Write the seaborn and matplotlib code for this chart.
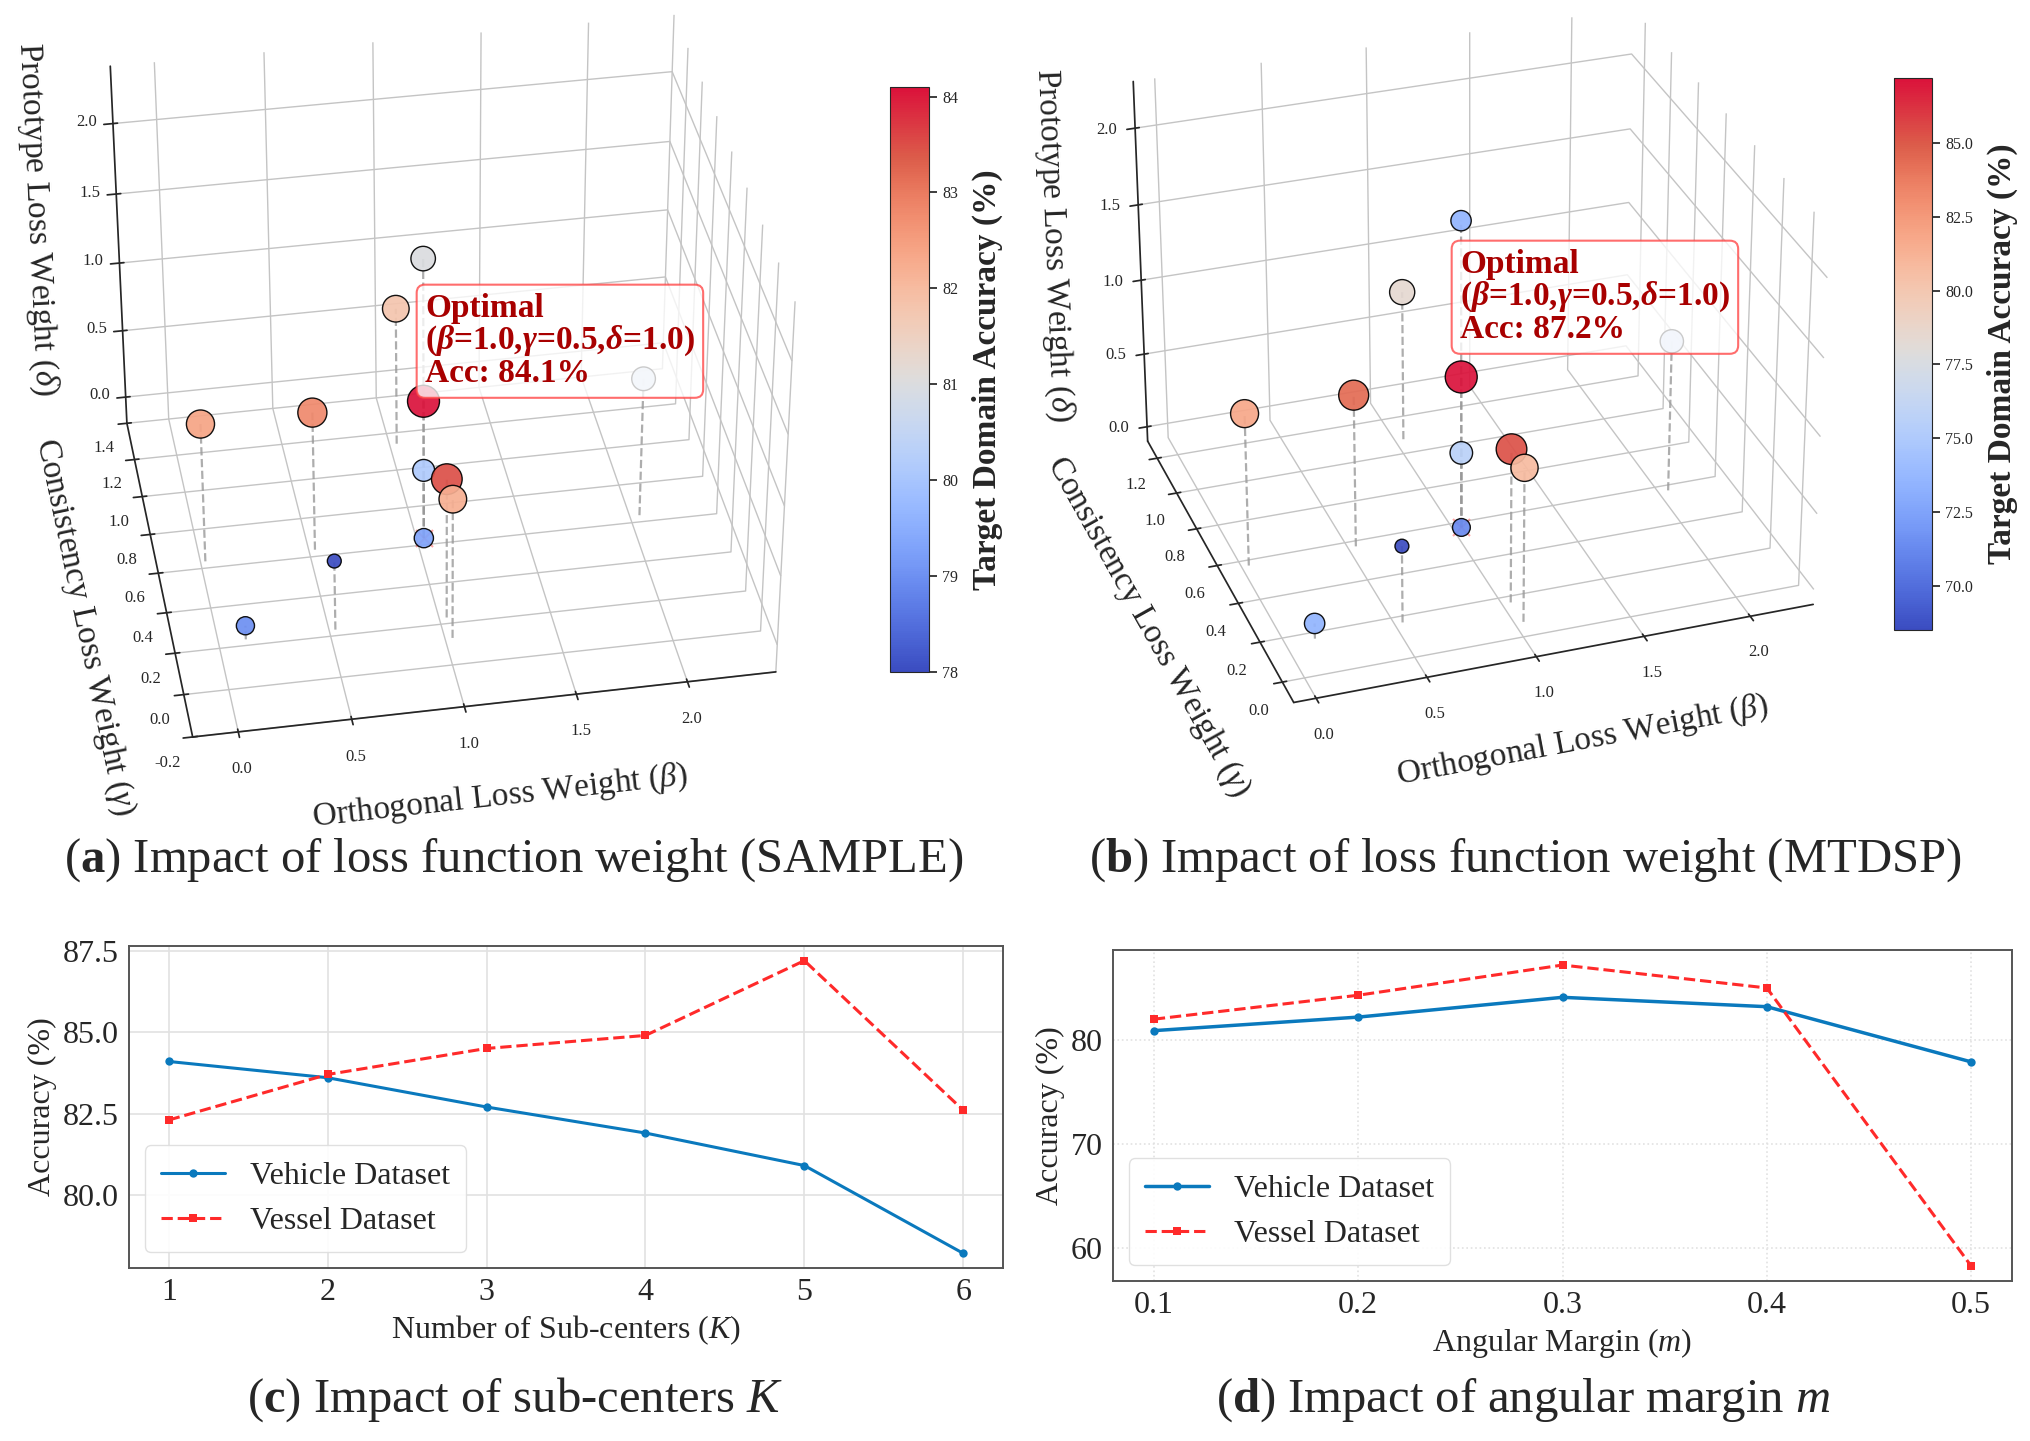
import numpy as np
import pandas as pd
import matplotlib
matplotlib.use("Agg")
import matplotlib.pyplot as plt
import seaborn as sns
from matplotlib import colors as mcolors
from matplotlib.cm import ScalarMappable

# ---------------- data ----------------
# loss-weight configurations (shared by panels a and b)
beta_vals  = [0.0, 0.5, 1.0, 2.0, 1.0, 1.0, 1.0, 1.0, 1.0, 1.0, 0.5, 0.1]
gamma_vals = [0.5, 0.5, 0.5, 0.5, 1.0, 0.1, 0.0, 0.5, 0.5, 0.5, 0.1, 0.1]
delta_vals = [1.0, 1.0, 1.0, 1.0, 1.0, 1.0, 1.0, 2.0, 0.5, 0.0, 0.5, 0.1]
acc_sample = [82.4, 82.8, 84.1, 80.7, 81.8, 83.5, 82.2, 81.0, 80.1, 79.3, 78.0, 79.0]
acc_mtdsp  = [81.8, 84.4, 87.2, 76.4, 78.4, 85.3, 80.8, 73.5, 75.6, 71.3, 68.5, 73.5]
optimal = (1.0, 0.5, 1.0)

K_vals = [1, 2, 3, 4, 5, 6]
vehicle_K = [84.1, 83.6, 82.7, 81.9, 80.9, 78.2]
vessel_K  = [82.3, 83.7, 84.5, 84.9, 87.2, 82.6]

m_vals = [0.1, 0.2, 0.3, 0.4, 0.5]
vehicle_m = [80.9, 82.2, 84.1, 83.2, 77.9]
vessel_m  = [82.0, 84.3, 87.2, 85.0, 58.3]

# ---------------- style ----------------
sns.set_theme(style="white")
plt.rcParams["font.family"] = ["Liberation Serif", "DejaVu Serif"]
plt.rcParams["mathtext.fontset"] = "custom"
plt.rcParams["mathtext.rm"] = "Liberation Serif"
plt.rcParams["mathtext.it"] = "Liberation Serif:italic"
plt.rcParams["mathtext.bf"] = "Liberation Serif:bold"
plt.rcParams["mathtext.sf"] = "Liberation Serif:italic:bold"

# coolwarm with a brighter crimson top end (lower part unchanged)
_cw = plt.get_cmap("coolwarm")
_stops = [(t, _cw(t)) for t in np.linspace(0.0, 0.88, 45)] + [(1.0, (0.86, 0.07, 0.23, 1.0))]
cmap3d = mcolors.LinearSegmentedColormap.from_list("cw_crimson", _stops)

fig = plt.figure(figsize=(20.3, 14.41), dpi=100)

blue = "#0a79bd"
red = "#ff2a2a"
W, H = 2030.0, 1441.0


def draw3d(rect, acc, elev, azim, lims, box, lpad, cax_rect, cticks, cfmt,
           box_xy, acc_text):
    ax = fig.add_axes(rect, projection="3d")
    ax.computed_zorder = False
    a = np.array(acc)
    norm = mcolors.Normalize(a.min(), a.max())
    sizes = 100 + 430 * (a - a.min()) / (a.max() - a.min())
    for b, g, d in zip(beta_vals, gamma_vals, delta_vals):
        if d > 0:
            ax.plot([b, b], [g, g], [0, d], ls="--", color="#999999",
                    lw=1.6, alpha=0.8, zorder=1)
    ax.scatter([optimal[0]], [optimal[1]], [0], marker="x", s=150,
               color="red", alpha=0.35, zorder=2, depthshade=False)
    ax.scatter(beta_vals, gamma_vals, delta_vals, c=acc, cmap=cmap3d,
               norm=norm, s=sizes, edgecolors="black", linewidths=1.0,
               alpha=0.92, depthshade=False, zorder=3)
    ax.set_xlim(*lims[0]); ax.set_ylim(*lims[1]); ax.set_zlim(*lims[2])
    ax.set_xticks([0.0, 0.5, 1.0, 1.5, 2.0])
    ax.set_zticks([0.0, 0.5, 1.0, 1.5, 2.0])
    ax.set_box_aspect(box)
    ax.view_init(elev=elev, azim=azim)
    for axis in (ax.xaxis, ax.yaxis, ax.zaxis):
        axis.set_pane_color((1, 1, 1, 0))
        axis.pane.set_edgecolor("#c4c4c4")
        axis._axinfo["grid"]["color"] = "#c4c4c4"
        axis._axinfo["grid"]["linewidth"] = 1.0
        axis.set_major_formatter(matplotlib.ticker.FormatStrFormatter("%.1f"))
    ax.tick_params(labelsize=12, pad=6)
    ax.set_xlabel(r"Orthogonal Loss Weight ($\beta$)", fontsize=24, labelpad=lpad)
    ax.set_ylabel(r"Consistency Loss Weight ($\gamma$)", fontsize=24, labelpad=lpad)
    ax.set_zlabel(r"Prototype Loss Weight ($\delta$)", fontsize=24, labelpad=lpad)

    cax = fig.add_axes(cax_rect)
    cb = fig.colorbar(ScalarMappable(norm=norm, cmap=cmap3d), cax=cax)
    cb.set_ticks(cticks)
    cb.ax.yaxis.set_major_formatter(matplotlib.ticker.FormatStrFormatter(cfmt))
    cb.ax.tick_params(labelsize=11.5)
    cb.outline.set_linewidth(0.8)
    cb.set_label("Target Domain Accuracy (%)", fontsize=24, fontweight="bold",
                 labelpad=10)

    txt = ("Optimal\n" + r"($\mathsf{\beta}$=1.0,$\mathsf{\gamma}$=0.5,"
           r"$\mathsf{\delta}$=1.0)" + "\n" + "Acc: " + acc_text + "%")
    fig.text(box_xy[0], box_xy[1], txt, ha="left", va="top", fontsize=24,
             fontweight="bold", color="#a80000", linespacing=1.0, zorder=10,
             bbox=dict(boxstyle="round,pad=0.25", facecolor="white",
                       edgecolor="#ff4444", linewidth=1.5, alpha=0.78))
    return ax


def sq_rect(cx, cy, side):
    return [(cx - side / 2) / W, (H - cy - side / 2) / H, side / W, side / H]


ax_a = draw3d(sq_rect(428, 378, 878), acc_sample, 35, -100,
              [(-0.2, 2.4), (-0.2, 1.4), (-0.2, 2.4)], (4, 3.65, 3.05), 23,
              [890 / W, 1 - 672 / H, 39 / W, 585 / H],
              [78, 79, 80, 81, 82, 83, 84], "%d",
              (425 / W, 1 - 293 / H), "84.1")
ax_b = draw3d(sq_rect(1459, 352, 836), acc_mtdsp, 29, -109,
              [(-0.1, 2.3), (-0.1, 1.3), (-0.1, 2.3)], (4, 3.9, 3.12), 22,
              [1894 / W, 1 - 630 / H, 38 / W, 552 / H],
              [70.0, 72.5, 75.0, 77.5, 80.0, 82.5, 85.0], "%.1f",
              (1460 / W, 1 - 249 / H), "87.2")


def line_panel(rect, x, veh, ves, xlabel, xticks, xfmt, grid_ls, lw_veh):
    ax = fig.add_axes(rect)
    sns.lineplot(x=x, y=veh, ax=ax, color=blue, marker="o", markersize=6,
                 linewidth=lw_veh, markeredgewidth=0, label="Vehicle Dataset")
    sns.lineplot(x=x, y=ves, ax=ax, color=red, marker="s", markersize=6,
                 linewidth=2.2, linestyle="--", markeredgewidth=0,
                 label="Vessel Dataset")
    ax.grid(True, color="#e2e2e2", linestyle=grid_ls, linewidth=1.2)
    ax.set_xticks(xticks)
    ax.set_xticklabels([xfmt % v for v in xticks])
    ax.tick_params(labelsize=23, length=4)
    ax.set_xlabel(xlabel, fontsize=23, labelpad=4)
    ax.set_ylabel("Accuracy (%)", fontsize=23, labelpad=4)
    for s in ax.spines.values():
        s.set_color("#555555")
        s.set_linewidth(1.4)
    ax.legend(loc="lower left", fontsize=23, frameon=True, fancybox=True,
              framealpha=0.9, edgecolor="#dddddd", borderpad=0.5)
    return ax


ax_c = line_panel([129 / W, 1 - 1268 / H, 874 / W, 322 / H], K_vals,
                  vehicle_K, vessel_K, r"Number of Sub-centers ($K$)",
                  K_vals, "%d", "-", 2.2)
ax_c.set_yticks([80.0, 82.5, 85.0, 87.5])
ax_c.yaxis.set_major_formatter(matplotlib.ticker.FormatStrFormatter("%.1f"))

ax_d = line_panel([1113 / W, 1 - 1281 / H, 899 / W, 331 / H], m_vals,
                  vehicle_m, vessel_m, r"Angular Margin ($m$)",
                  m_vals, "%.1f", ":", 2.5)
ax_d.set_yticks([60, 70, 80])

cap = dict(fontsize=35, ha="center", va="center")
fig.text(514 / W, 1 - 860 / H, r"($\mathbf{a}$) Impact of loss function weight (SAMPLE)", **cap)
fig.text(1525 / W, 1 - 860 / H, r"($\mathbf{b}$) Impact of loss function weight (MTDSP)", **cap)
fig.text(515 / W, 1 - 1400 / H, r"($\mathbf{c}$) Impact of sub-centers $K$", **cap)
fig.text(1523 / W, 1 - 1400 / H, r"($\mathbf{d}$) Impact of angular margin $m$", **cap)

fig.savefig("out.png", dpi=100)
